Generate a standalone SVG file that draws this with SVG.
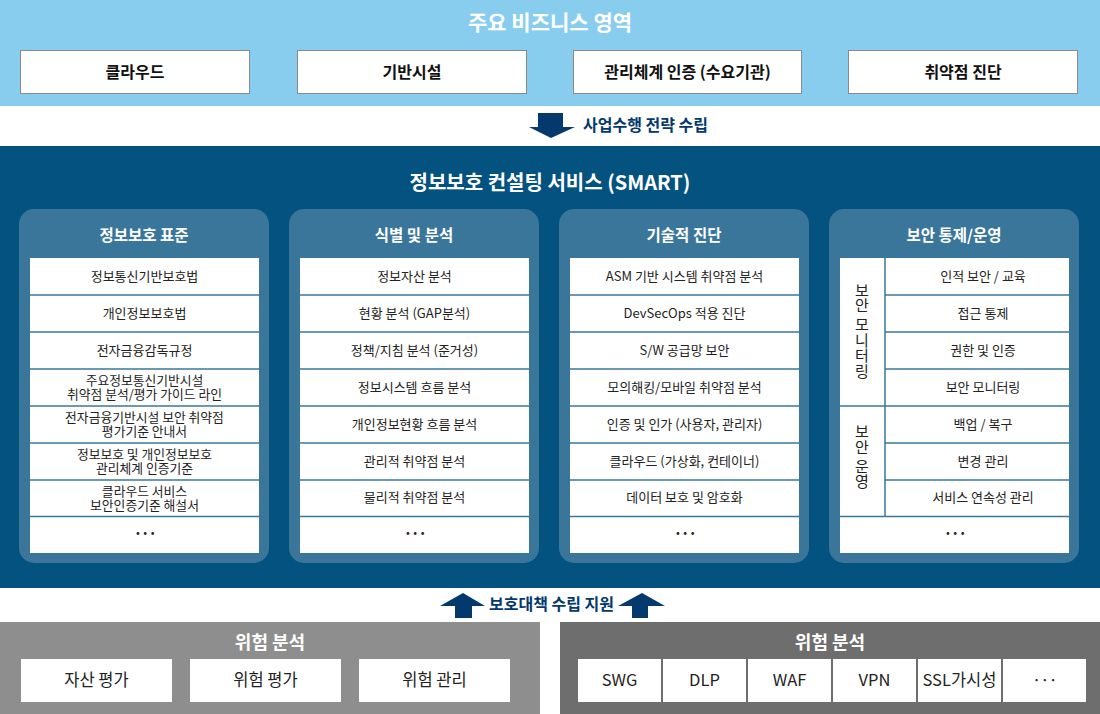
<svg xmlns="http://www.w3.org/2000/svg" width="1100" height="714" viewBox="0 0 1100 714">
<style>
text{font-family:"Noto Sans CJK KR","Noto Sans",sans-serif;text-anchor:middle}
.h1{font-size:21px;font-weight:bold;fill:#fff}
.h2{font-size:20px;font-weight:bold;fill:#fff}
.ct{font-size:15.5px;font-weight:bold;fill:#fff}
.tb{font-size:16px;font-weight:bold;fill:#111}
.it{font-size:13px;fill:#222}
.it2{font-size:12.8px;fill:#222}
.dots{font-size:15px;font-weight:bold;fill:#222;letter-spacing:-1.5px}
.lbl{font-size:16px;font-weight:bold;fill:#03396c;text-anchor:start}
.bt{font-size:16.5px;fill:#222}
.bh{font-size:18px;font-weight:bold;fill:#fff}
.topbox{fill:#fff;stroke:#8a8a8a;stroke-width:1}
.panel{fill:#3a769a}
.list{fill:#fff}
.div{stroke:#3a769a;stroke-width:1.5}
.arrow{fill:#03396c}
.vt{font-size:15px;fill:#222;writing-mode:vertical-rl;text-orientation:upright;letter-spacing:0.5px}
</style>

<!-- backgrounds -->
<rect x="0" y="0" width="1100" height="106" fill="#89cdee"/>
<rect x="0" y="146" width="1100" height="442" fill="#03527f"/>

<g id="business-areas">
<text class="h1" x="550" y="30">주요 비즈니스 영역</text>
<g id="ba-cloud"><rect class="topbox" x="20.5" y="50.5" width="229" height="43"/><text class="tb" x="135" y="77.5">클라우드</text></g>
<g id="ba-infra"><rect class="topbox" x="297.5" y="50.5" width="229" height="43"/><text class="tb" x="412" y="77.5">기반시설</text></g>
<g id="ba-cert"><rect class="topbox" x="573.5" y="50.5" width="228" height="43"/><text class="tb" x="687.5" y="77.5">관리체계 인증 (수요기관)</text></g>
<g id="ba-vuln"><rect class="topbox" x="848.5" y="50.5" width="229" height="43"/><text class="tb" x="963" y="77.5">취약점 진단</text></g>
</g>

<g id="connectors">
<polygon class="arrow" points="538,113 563,113 563,127 575,127 551,138 529,127 538,127"/>
<text class="lbl" x="583" y="131">사업수행 전략 수립</text>
<polygon class="arrow" points="463,593 485,606 472,606 472,618 455,618 455,606 440,606"/>
<polygon class="arrow" points="642,593 665,606 648,606 648,618 632,618 632,606 618,606"/>
<text class="lbl" x="489" y="610">보호대책 수립 지원</text>
</g>

<g id="smart">
<text class="h2" x="550" y="190">정보보호 컨설팅 서비스 (SMART)</text>
</g>

<!-- Column 1 -->
<g id="col-standard">
<rect class="panel" x="19" y="209" width="250" height="354" rx="15"/>
<text class="ct" x="144" y="241">정보보호 표준</text>
<rect class="list" x="30" y="258" width="229" height="295"/>
<g class="div">
<line x1="30" y1="295" x2="259" y2="295"/><line x1="30" y1="332" x2="259" y2="332"/><line x1="30" y1="369" x2="259" y2="369"/><line x1="30" y1="406" x2="259" y2="406"/><line x1="30" y1="443" x2="259" y2="443"/><line x1="30" y1="480" x2="259" y2="480"/><line x1="30" y1="516.5" x2="259" y2="516.5"/>
</g>
<text class="it" x="144.5" y="281">정보통신기반보호법</text>
<text class="it" x="144.5" y="318">개인정보보호법</text>
<text class="it" x="144.5" y="355">전자금융감독규정</text>
<text class="it2"><tspan x="144.5" y="385">주요정보통신기반시설</tspan><tspan x="144.5" y="399">취약점 분석/평가 가이드 라인</tspan></text>
<text class="it2"><tspan x="144.5" y="422">전자금융기반시설 보안 취약점</tspan><tspan x="144.5" y="436">평가기준 안내서</tspan></text>
<text class="it2"><tspan x="144.5" y="459">정보보호 및 개인정보보호</tspan><tspan x="144.5" y="473">관리체계 인증기준</tspan></text>
<text class="it2"><tspan x="144.5" y="496">클라우드 서비스</tspan><tspan x="144.5" y="510">보안인증기준 해설서</tspan></text>
<text class="dots" x="144.5" y="539">···</text>
</g>

<!-- Column 2 -->
<g id="col-analysis">
<rect class="panel" x="289" y="209" width="250" height="354" rx="15"/>
<text class="ct" x="414" y="241">식별 및 분석</text>
<rect class="list" x="300" y="258" width="229" height="295"/>
<g class="div">
<line x1="300" y1="295" x2="529" y2="295"/><line x1="300" y1="332" x2="529" y2="332"/><line x1="300" y1="369" x2="529" y2="369"/><line x1="300" y1="406" x2="529" y2="406"/><line x1="300" y1="443" x2="529" y2="443"/><line x1="300" y1="480" x2="529" y2="480"/><line x1="300" y1="516.5" x2="529" y2="516.5"/>
</g>
<text class="it" x="414.5" y="281">정보자산 분석</text>
<text class="it" x="414.5" y="318">현황 분석 (GAP분석)</text>
<text class="it" x="414.5" y="355">정책/지침 분석 (준거성)</text>
<text class="it" x="414.5" y="392">정보시스템 흐름 분석</text>
<text class="it" x="414.5" y="429">개인정보현황 흐름 분석</text>
<text class="it" x="414.5" y="466">관리적 취약점 분석</text>
<text class="it" x="414.5" y="502">물리적 취약점 분석</text>
<text class="dots" x="414.5" y="539">···</text>
</g>

<!-- Column 3 -->
<g id="col-technical">
<rect class="panel" x="559" y="209" width="250" height="354" rx="15"/>
<text class="ct" x="684" y="241">기술적 진단</text>
<rect class="list" x="570" y="258" width="229" height="295"/>
<g class="div">
<line x1="570" y1="295" x2="799" y2="295"/><line x1="570" y1="332" x2="799" y2="332"/><line x1="570" y1="369" x2="799" y2="369"/><line x1="570" y1="406" x2="799" y2="406"/><line x1="570" y1="443" x2="799" y2="443"/><line x1="570" y1="480" x2="799" y2="480"/><line x1="570" y1="516.5" x2="799" y2="516.5"/>
</g>
<text class="it" x="684.5" y="281">ASM 기반 시스템 취약점 분석</text>
<text class="it" x="684.5" y="318">DevSecOps 적용 진단</text>
<text class="it" x="684.5" y="355">S/W 공급망 보안</text>
<text class="it" x="684.5" y="392">모의해킹/모바일 취약점 분석</text>
<text class="it" x="684.5" y="429">인증 및 인가 (사용자, 관리자)</text>
<text class="it" x="684.5" y="466">클라우드 (가상화, 컨테이너)</text>
<text class="it" x="684.5" y="502">데이터 보호 및 암호화</text>
<text class="dots" x="684.5" y="539">···</text>
</g>

<!-- Column 4 -->
<g id="col-operation">
<rect class="panel" x="829" y="209" width="250" height="354" rx="15"/>
<text class="ct" x="954" y="241">보안 통제/운영</text>
<rect class="list" x="840" y="258" width="229" height="295"/>
<g class="div">
<line x1="885" y1="258" x2="885" y2="516.5"/>
<line x1="885" y1="295" x2="1069" y2="295"/><line x1="885" y1="332" x2="1069" y2="332"/><line x1="885" y1="369" x2="1069" y2="369"/><line x1="840" y1="406" x2="1069" y2="406"/><line x1="885" y1="443" x2="1069" y2="443"/><line x1="885" y1="480" x2="1069" y2="480"/><line x1="840" y1="516.5" x2="1069" y2="516.5"/>
</g>
<text class="vt" x="862" y="331">보안&#8201;모니터링</text>
<text class="vt" x="862" y="457">보안&#8201;운영</text>
<text class="it" x="983" y="281">인적 보안 / 교육</text>
<text class="it" x="983" y="318">접근 통제</text>
<text class="it" x="983" y="355">권한 및 인증</text>
<text class="it" x="983" y="392">보안 모니터링</text>
<text class="it" x="983" y="429">백업 / 복구</text>
<text class="it" x="983" y="466">변경 관리</text>
<text class="it" x="983" y="502">서비스 연속성 관리</text>
<text class="dots" x="954.5" y="539">···</text>
</g>

<!-- Bottom left -->
<g id="risk-analysis-left">
<rect x="0" y="622" width="540" height="92" fill="#8e8e8e"/>
<text class="bh" x="270" y="649">위험 분석</text>
<g id="asset-eval"><rect x="21" y="659" width="151" height="43" fill="#fff"/><text class="bt" x="96.5" y="686">자산 평가</text></g>
<g id="risk-eval"><rect x="190" y="659" width="151" height="43" fill="#fff"/><text class="bt" x="265.5" y="686">위험 평가</text></g>
<g id="risk-mgmt"><rect x="359" y="659" width="151" height="43" fill="#fff"/><text class="bt" x="434.5" y="686">위험 관리</text></g>
</g>

<!-- Bottom right -->
<g id="risk-analysis-right">
<rect x="560" y="622" width="540" height="92" fill="#6e6e6e"/>
<text class="bh" x="830" y="649">위험 분석</text>
<g id="swg"><rect x="578" y="659" width="83" height="43" fill="#fff"/><text class="bt" x="619.5" y="686">SWG</text></g>
<g id="dlp"><rect x="663" y="659" width="83" height="43" fill="#fff"/><text class="bt" x="704.5" y="686">DLP</text></g>
<g id="waf"><rect x="748" y="659" width="83" height="43" fill="#fff"/><text class="bt" x="789.5" y="686">WAF</text></g>
<g id="vpn"><rect x="833" y="659" width="83" height="43" fill="#fff"/><text class="bt" x="874.5" y="686">VPN</text></g>
<g id="ssl"><rect x="918" y="659" width="83" height="43" fill="#fff"/><text class="bt" x="959.5" y="686">SSL가시성</text></g>
<g id="etc"><rect x="1003" y="659" width="83" height="43" fill="#fff"/><text class="bt" x="1044.5" y="686" style="letter-spacing:-1px">···</text></g>
</g>
</svg>
